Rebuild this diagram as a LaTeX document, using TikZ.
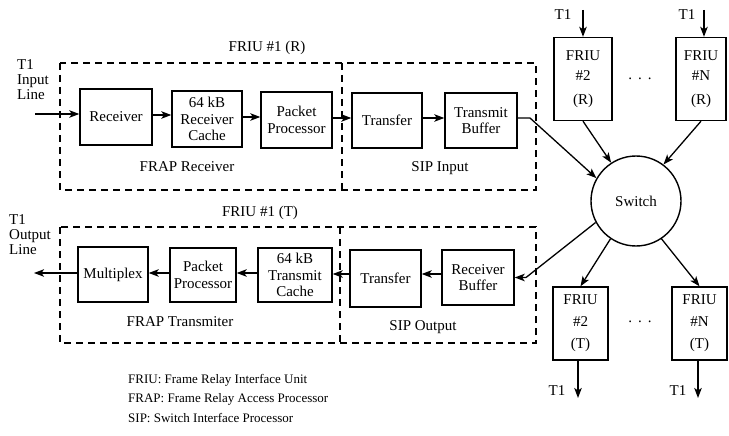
\documentclass[tikz,border=0pt]{standalone}
\usepackage{fontspec}
\setmainfont{Liberation Serif}
\usetikzlibrary{arrows.meta}
\tikzset{
  txt/.style={font=\fontsize{15}{17}\selectfont, inner sep=0pt},
  blk/.style={draw, line width=1.4pt, align=center, inner sep=1pt,
              font=\fontsize{15}{16.5}\selectfont},
  unit/.style={blk, minimum width=55pt, minimum height=80pt},
  grp/.style={line width=1.3pt, dash pattern=on 7pt off 5pt},
  arr/.style={line width=1.3pt, -{Stealth[length=10pt,width=7.5pt,inset=2.5pt]}},
  legend/.style={font=\fontsize{13}{15}\selectfont, inner sep=0pt, anchor=west},
}
\begin{document}
\begin{tikzpicture}[x=1pt,y=-1pt]
\useasboundingbox (0,0) rectangle (729,436);

% ---------- FRIU #1 (R) ----------
\draw[grp] (60,63) rectangle (536,190);
\draw[grp] (342,63) -- (342,190);
\node[txt] (titleR) at (267,48) {FRIU \#1 (R)};
\node[txt] (frapR) at (187,167) {FRAP Receiver};
\node[txt] (sipI) at (440,168) {SIP Input};

\node[blk, minimum width=72pt, minimum height=56pt] (rcv) at (116,117) {Receiver};
\node[blk, minimum width=70pt, minimum height=56pt] (cacheR) at (207,119) {64 kB\\Receiver\\Cache};
\node[blk, minimum width=71pt, minimum height=56pt] (ppR) at (296.5,120) {Packet\\Processor};
\node[blk, minimum width=70pt, minimum height=55pt] (trR) at (387,120.5) {Transfer};
\node[blk, minimum width=72pt, minimum height=55pt] (tbR) at (481,120.5) {Transmit\\Buffer};

\node[txt, align=left, anchor=north west, font=\fontsize{15}{15}\selectfont] (inLbl) at (17,59) {T1\\Input\\Line};
\coordinate (inSrc) at (35,114);
\draw[arr] (inSrc) -- (inSrc -| rcv.west);
\draw[arr] (rcv.east |- 0,115) -- (cacheR.west |- 0,115);
\draw[arr] (cacheR.east |- 0,117) -- (ppR.west |- 0,117);
\draw[arr] (ppR.east |- 0,118) -- (trR.west |- 0,118);
\draw[arr] (trR.east |- 0,118) -- (tbR.west |- 0,118);

% ---------- FRIU #1 (T) ----------
\draw[grp] (60,227) rectangle (536,343);
\draw[grp] (340,227) -- (340,343);
\node[txt] (titleT) at (260,213) {FRIU \#1 (T)};
\node[txt] (frapT) at (180,322) {FRAP Transmiter};
\node[txt] (sipO) at (423,327) {SIP Output};

\node[blk, minimum width=70pt, minimum height=55pt] (mux) at (113,274.5) {Multiplex};
\node[blk, minimum width=66pt, minimum height=54pt] (ppT) at (203,275) {Packet\\Processor};
\node[blk, minimum width=74pt, minimum height=54pt] (cacheT) at (295,275) {64 kB\\Transmit\\Cache};
\node[blk, minimum width=71pt, minimum height=57pt] (trT) at (385.5,278.5) {Transfer};
\node[blk, minimum width=72pt, minimum height=55pt] (rbT) at (478,277.5) {Receiver\\Buffer};

\node[txt, align=left, anchor=north west, font=\fontsize{15}{15}\selectfont] (outLbl) at (9,214) {T1\\Output\\Line};
\coordinate (outDst) at (34,273);
\draw[arr] (mux.west |- outDst) -- (outDst);
\draw[arr] (ppT.west |- 0,273) -- (mux.east |- 0,273);
\draw[arr] (cacheT.west |- 0,273) -- (ppT.east |- 0,273);
\draw[arr] (trT.west |- 0,274) -- (cacheT.east |- 0,274);
\draw[arr] (rbT.west |- 0,274) -- (trT.east |- 0,274);

% ---------- Switch and other units ----------
\node[blk, circle, minimum size=90pt] (sw) at (636,201) {Switch};

\node[unit, minimum width=58pt, minimum height=83pt] (f2r) at (583,79) {FRIU\\[4pt]\#2\\[7pt](R)};
\node[unit, minimum width=50pt, minimum height=83pt] (fnr) at (701,79) {FRIU\\[4pt]\#N\\[7pt](R)};
\node[unit, minimum width=55pt, minimum height=73pt] (f2t) at (580.5,323.5) {FRIU\\[5pt]\#2\\[6pt](T)};
\node[unit, minimum width=55pt, minimum height=73pt] (fnt) at (699.5,323.5) {FRIU\\[5pt]\#N\\[6pt](T)};

\node[txt] (dotsR) at (640,79) {.\hspace{6pt}.\hspace{6pt}.};
\node[txt] (dotsT) at (640,322) {.\hspace{6pt}.\hspace{6pt}.};

% T1 lines into the receive units
\coordinate (t2in) at (583,10);
\coordinate (tnin) at (704,10);
\node[txt] (t2inL) at (563,15) {T1};
\node[txt] (tninL) at (687,15) {T1};
\draw[arr] (t2in) -- (t2in |- f2r.north);
\draw[arr] (tnin) -- (tnin |- fnr.north);

% T1 lines out of the transmit units
\coordinate (t2out) at (578,398);
\coordinate (tnout) at (698,398);
\node[txt] (t2outL) at (557,391) {T1};
\node[txt] (tnoutL) at (678,391) {T1};
\draw[arr] (t2out |- f2t.south) -- (t2out);
\draw[arr] (tnout |- fnt.south) -- (tnout);

% links to and from the switch
\coordinate (tbBend) at (530,118);
\draw[arr] (tbR.east |- tbBend) -- (tbBend) -- (sw.150);
\draw[arr] (f2r.south) -- (sw.123);
\draw[arr] (fnr.south) -- (sw.53);
\coordinate (rbBend) at (526,277.5);
\draw[arr] (sw.208) -- (rbBend) -- (rbT.east);
\draw[arr] (sw.236) -- (f2t.north);
\draw[arr] (sw.304) -- (fnt.north);

% ---------- legend ----------
\node[legend] (l1) at (128,380) {FRIU: Frame Relay Interface Unit};
\node[legend] (l2) at (128,399) {FRAP: Frame Relay Access Processor};
\node[legend] (l3) at (128,418) {SIP: Switch Interface Processor};
\end{tikzpicture}
\end{document}
